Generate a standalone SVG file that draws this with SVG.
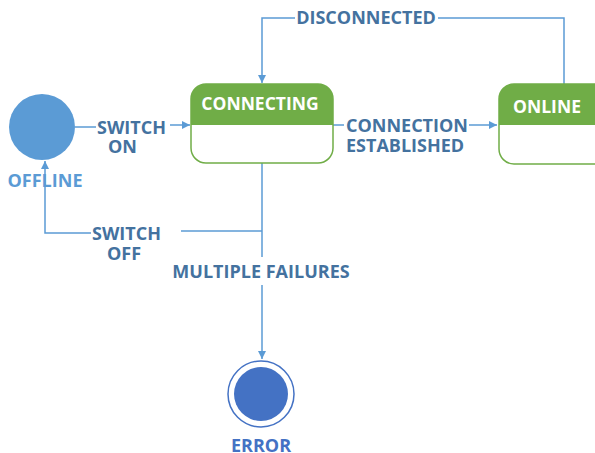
<svg xmlns="http://www.w3.org/2000/svg" width="595" height="453" viewBox="0 0 595 453">
<style>
.lbl{font-family:"Open Sans","Liberation Sans",sans-serif;font-weight:bold;font-size:18px;fill:#44729f}
.hdr{font-family:"Open Sans","Liberation Sans",sans-serif;font-weight:bold;font-size:17.5px;fill:#ffffff}
.edge{fill:none;stroke:#5b9bd5;stroke-width:1.5}
</style>
<defs>
<marker id="ah" viewBox="0 0 10 10" refX="10" refY="5" markerWidth="8" markerHeight="8" markerUnits="userSpaceOnUse" orient="auto"><path d="M0,0 L10,5 L0,10 Z" fill="#5b9bd5"/></marker>
<clipPath id="c1"><rect x="191" y="84" width="142" height="79" rx="15"/></clipPath>
<clipPath id="c2"><rect x="499" y="84" width="110" height="80" rx="15"/></clipPath>
</defs>
<rect width="595" height="453" fill="#ffffff"/>
<g id="connectors">
<path class="edge" d="M75,127 H96"/>
<path class="edge" d="M170,125 H190" marker-end="url(#ah)"/>
<path class="edge" d="M333,125 H344"/>
<path class="edge" d="M469,125 H497" marker-end="url(#ah)"/>
<path class="edge" d="M564,84 V18 H438"/>
<path class="edge" d="M295,18 H262 V83" marker-end="url(#ah)"/>
<path class="edge" d="M262,163 V257"/>
<path class="edge" d="M262,231 H181"/>
<path class="edge" d="M91,233 H45 V161" marker-end="url(#ah)"/>
<path class="edge" d="M262,285 V359" marker-end="url(#ah)"/>
<text class="lbl" x="97" y="134">SWITCH</text>
<text class="lbl" x="108" y="153">ON</text>
<text class="lbl" x="346" y="132">CONNECTION</text>
<text class="lbl" x="346" y="152">ESTABLISHED</text>
<text class="lbl" x="366" y="24" text-anchor="middle">DISCONNECTED</text>
<text class="lbl" x="92" y="240">SWITCH</text>
<text class="lbl" x="107" y="260">OFF</text>
<text class="lbl" x="261" y="278" text-anchor="middle">MULTIPLE FAILURES</text>
</g>
<g id="offline">
<circle cx="42" cy="127" r="33" fill="#5b9bd5"/>
<text class="lbl" x="45" y="187" text-anchor="middle" style="fill:#5b9bd5">OFFLINE</text>
</g>
<g id="connecting">
<rect x="191" y="84" width="142" height="79" rx="15" fill="#ffffff"/>
<rect x="191" y="84" width="142" height="41" fill="#70ad47" clip-path="url(#c1)"/>
<rect x="191" y="84" width="142" height="79" rx="15" fill="none" stroke="#70ad47" stroke-width="1.5"/>
<text class="hdr" x="260" y="110" text-anchor="middle">CONNECTING</text>
</g>
<g id="online">
<rect x="499" y="84" width="110" height="80" rx="15" fill="#ffffff"/>
<rect x="499" y="84" width="110" height="41" fill="#70ad47" clip-path="url(#c2)"/>
<rect x="499" y="84" width="110" height="80" rx="15" fill="none" stroke="#70ad47" stroke-width="1.5"/>
<text class="hdr" x="547" y="113" text-anchor="middle">ONLINE</text>
</g>
<g id="error">
<circle cx="261" cy="394" r="33" fill="#ffffff" stroke="#4472c4" stroke-width="1.5"/>
<circle cx="261" cy="394" r="27" fill="#4472c4"/>
<text class="lbl" x="261" y="452" text-anchor="middle" style="fill:#4472c4">ERROR</text>
</g>
</svg>
